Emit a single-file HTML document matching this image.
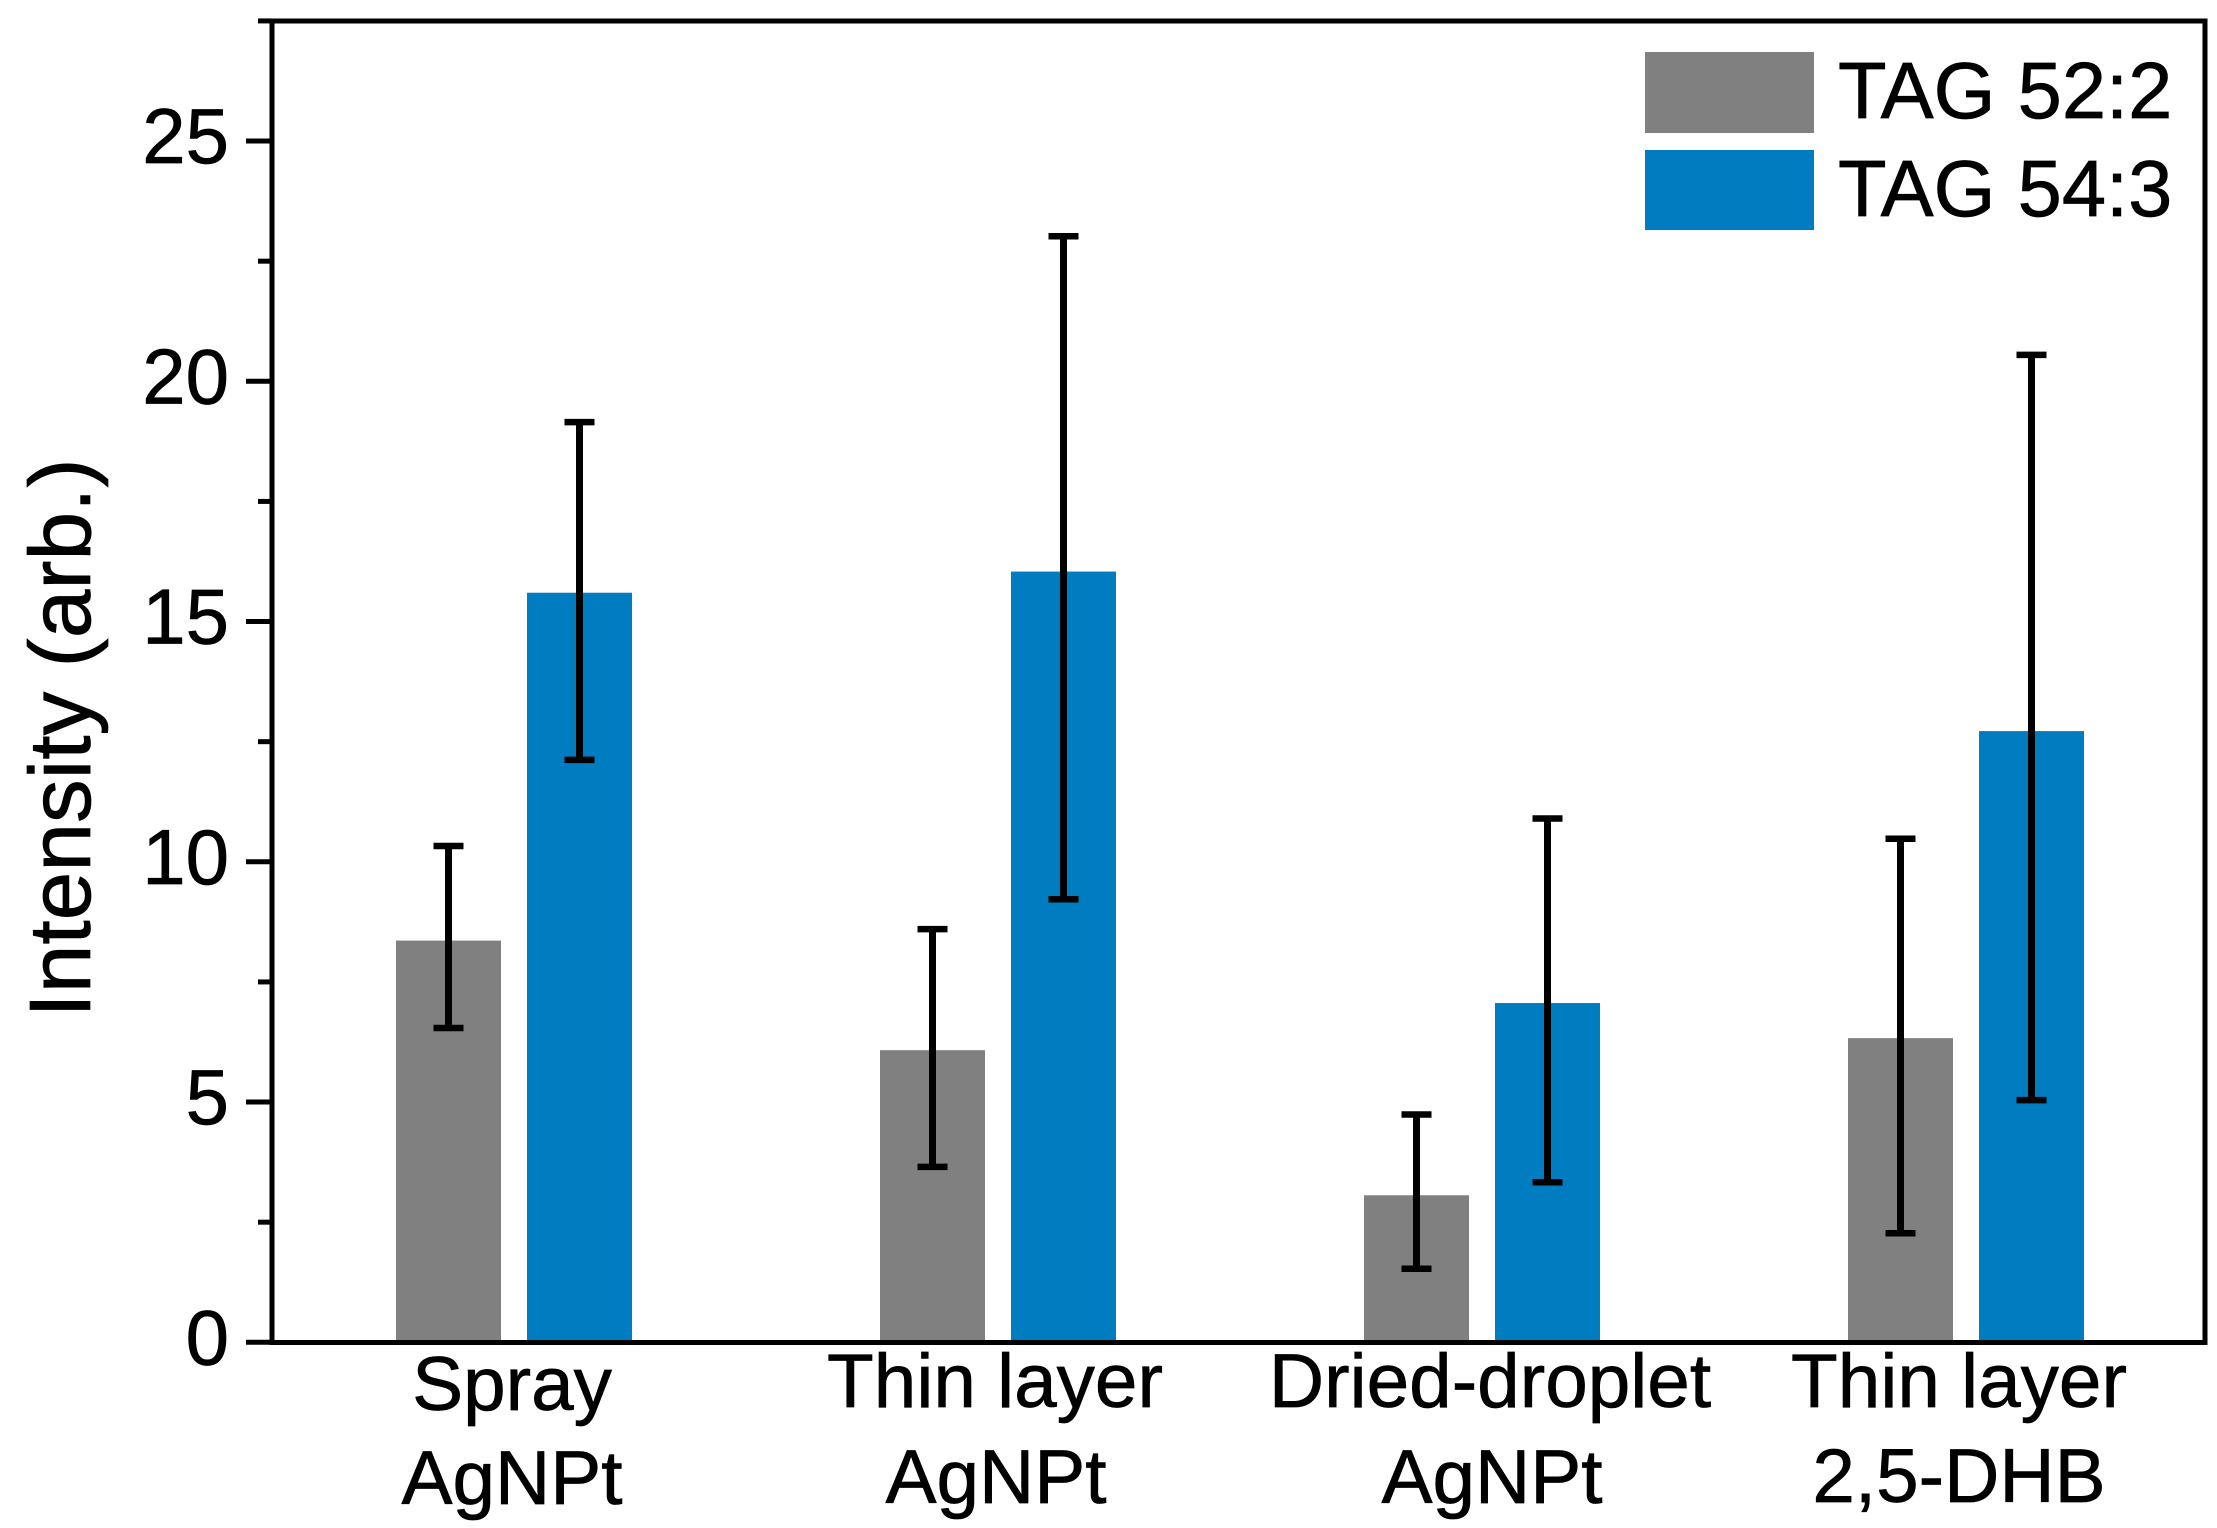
<!DOCTYPE html>
<html lang="en">
<head>
<meta charset="utf-8">
<title>TAG intensity bar chart</title>
<style>
  html, body { margin: 0; padding: 0; background: #fff; }
  svg { display: block; }
  text { font-family: "Liberation Sans", Arial, sans-serif; fill: #000; stroke: #000; stroke-width: 0.7px; }
</style>
</head>
<body>
<svg id="chart" xmlns="http://www.w3.org/2000/svg" width="2217" height="1528" viewBox="0 0 2217 1528">
  <rect x="0" y="0" width="2217" height="1528" fill="#fff"/>
  <g id="bars"></g>
  <g id="errors"></g>
  <rect x="272" y="21" width="1933" height="1321.5" fill="none" stroke="#000" stroke-width="5"/>
  <g id="ticks"></g>

  <text transform="translate(90 738) rotate(-90)" text-anchor="middle" font-size="87.5">Intensity (arb.)</text>

  <g font-size="76.5" text-anchor="middle">
    <text><tspan x="512" y="1410">Spray</tspan><tspan x="512" y="1504">AgNPt</tspan></text>
    <text><tspan x="995" y="1407">Thin layer</tspan><tspan x="996" y="1503">AgNPt</tspan></text>
    <text><tspan x="1490" y="1407">Dried-droplet</tspan><tspan x="1492" y="1503">AgNPt</tspan></text>
    <text><tspan x="1959" y="1407">Thin layer</tspan><tspan x="1959" y="1502">2,5-DHB</tspan></text>
  </g>

  <g>
    <rect x="1645" y="52" width="169" height="81" fill="#808080"/>
    <text x="1838" y="118" font-size="79.5">TAG 52:2</text>
    <rect x="1645" y="150" width="169" height="80" fill="#007DC0"/>
    <text x="1838" y="216" font-size="79.5">TAG 54:3</text>
  </g>
</svg>
<script>
const categories = ["Spray AgNPt", "Thin layer AgNPt", "Dried-droplet AgNPt", "Thin layer 2,5-DHB"];
const tag522Values = [8.36, 6.08, 3.06, 6.33];
const tag522ErrHigh = [10.33, 8.6, 4.74, 10.48];
const tag522ErrLow = [6.54, 3.65, 1.53, 2.27];
const tag543Values = [15.6, 16.04, 7.06, 12.72];
const tag543ErrHigh = [19.15, 23.02, 10.9, 20.55];
const tag543ErrLow = [12.12, 9.22, 3.33, 5.04];
const majorTicks = [0, 5, 10, 15, 20, 25];
const minorTicks = [2.5, 7.5, 12.5, 17.5, 22.5, 27.5];

const NS = "http://www.w3.org/2000/svg";
function yAxis(v) { return 1342.3 - v * 48.05; }
function xGroup(i) { return 513.5 + 484 * i; }
function xBarCenter(i, side) { return xGroup(i) + (side < 0 ? -65 : 66); }

function make(tag, attrs, parent) {
  const el = document.createElementNS(NS, tag);
  for (const k in attrs) el.setAttribute(k, attrs[k]);
  parent.appendChild(el);
  return el;
}

const barsG = document.getElementById("bars");
const errG = document.getElementById("errors");
const ticksG = document.getElementById("ticks");

function drawSeries(key, values, high, low, side, color) {
  values.forEach(function (v, i) {
    const cx = xBarCenter(i, side);
    const bar = make("rect", { x: cx - 52.5, y: yAxis(v), width: 105, height: yAxis(0) - yAxis(v), fill: color }, barsG);
    
    

    const stem = make("line", { x1: cx, x2: cx, y1: yAxis(high[i]), y2: yAxis(low[i]), stroke: "#000", "stroke-width": 7 }, errG);
    
    

    const capTop = make("line", { x1: cx - 15, x2: cx + 15, y1: yAxis(high[i]), y2: yAxis(high[i]), stroke: "#000", "stroke-width": 6.5 }, errG);
    
    

    const capLow = make("line", { x1: cx - 15, x2: cx + 15, y1: yAxis(low[i]), y2: yAxis(low[i]), stroke: "#000", "stroke-width": 6.5 }, errG);
    
    
  });
}
drawSeries("tag-52-2", tag522Values, tag522ErrHigh, tag522ErrLow, -1, "#808080");
drawSeries("tag-54-3", tag543Values, tag543ErrHigh, tag543ErrLow, 1, "#007DC0");

majorTicks.forEach(function (t) {
  const tick = make("line", { x1: 246, x2: 272, y1: yAxis(t), y2: yAxis(t), stroke: "#000", "stroke-width": 5 }, ticksG);
  
  
  const label = make("text", { x: 229, y: yAxis(t) + 22, "text-anchor": "end", "font-size": 78 }, ticksG);
  
  
  label.textContent = String(t);
});
minorTicks.forEach(function (t) {
  const tick = make("line", { x1: 258, x2: 272, y1: yAxis(t), y2: yAxis(t), stroke: "#000", "stroke-width": 5 }, ticksG);
  
  
});
</script>
</body>
</html>
